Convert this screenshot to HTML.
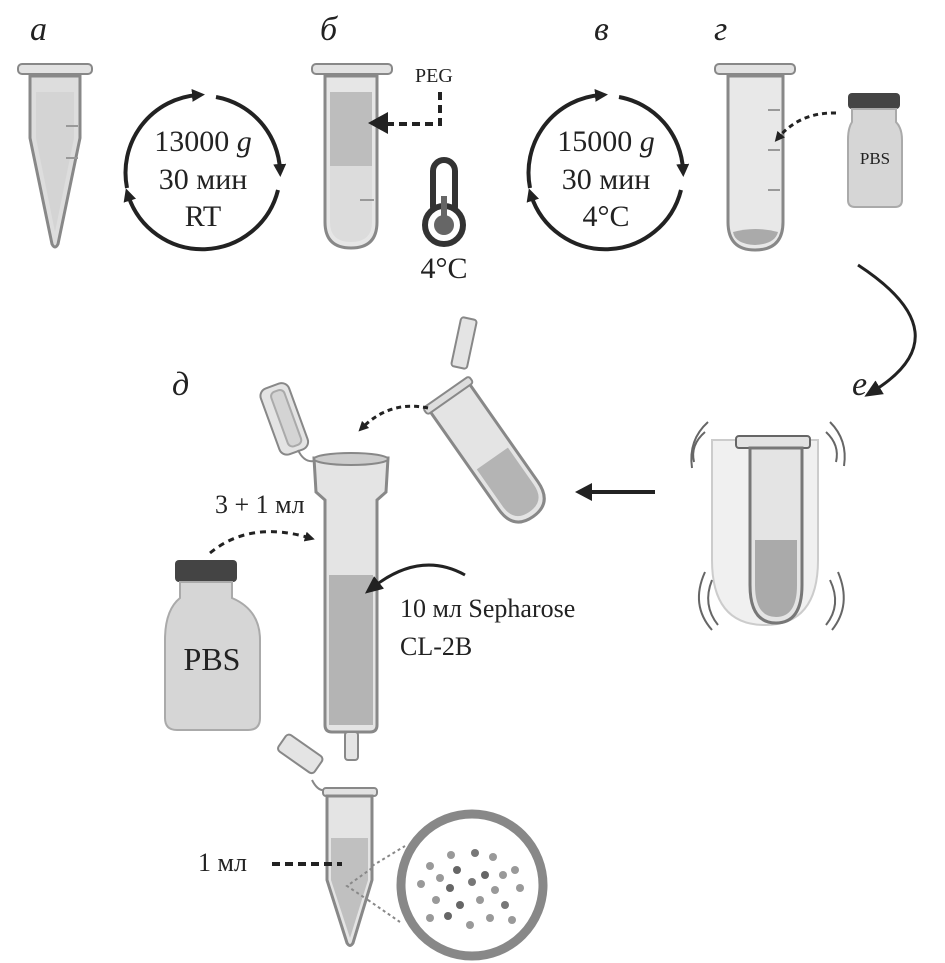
<!DOCTYPE html>
<html><head><meta charset="utf-8"><style>
html,body{margin:0;padding:0;background:#fff}
svg{display:block}
text{font-family:"Liberation Serif",serif;fill:#222}
</style></head><body>
<svg width="945" height="963" viewBox="0 0 945 963" xmlns="http://www.w3.org/2000/svg">
<defs>
<marker id="ah" markerWidth="13" markerHeight="13" refX="6" refY="6.5" orient="auto" markerUnits="userSpaceOnUse" viewBox="0 0 13 13"><path d="M0,0 L13,6.5 L0,13 z" fill="#222"/></marker>
<marker id="ahs" markerWidth="10" markerHeight="10" refX="5" refY="5" orient="auto" markerUnits="userSpaceOnUse" viewBox="0 0 10 10"><path d="M0,0 L10,5 L0,10 z" fill="#222"/></marker>
<marker id="ahb" markerWidth="18" markerHeight="18" refX="9" refY="9" orient="auto" markerUnits="userSpaceOnUse" viewBox="0 0 18 18"><path d="M0,1 L18,9 L0,17 z" fill="#222"/></marker>
</defs>

<g font-style="italic" font-size="34">
<text x="30" y="40">а</text><text x="320" y="40">б</text><text x="594" y="40">в</text><text x="714" y="40">г</text>
<text x="172" y="395">д</text><text x="852" y="395">е</text>
</g>

<!-- tube a -->
<rect x="18" y="64" width="74" height="10" rx="4" fill="#e2e2e2" stroke="#888" stroke-width="2"/>
<path d="M30 76 L80 76 L80 138 L58 244 Q55 250 52 244 L30 138 Z" fill="#ddd" stroke="#888" stroke-width="3"/>
<path d="M36 92 L74 92 L74 138 L55 232 L36 138 Z" fill="#d4d4d4"/>
<line x1="66" y1="126" x2="78" y2="126" stroke="#999" stroke-width="2"/><line x1="66" y1="158" x2="78" y2="158" stroke="#999" stroke-width="2"/>

<g fill="none" stroke="#222" stroke-width="4">
<path d="M127 188 A78 78 0 0 1 198 95" marker-end="url(#ah)"/>
<path d="M216 97 A78 78 0 0 1 280 170" marker-end="url(#ah)"/>
<path d="M278 190 A78 78 0 0 1 128 195" marker-end="url(#ah)"/>
</g>
<g font-size="30" text-anchor="middle"><text x="203" y="151">13000 <tspan font-style="italic">g</tspan></text><text x="203" y="189">30 мин</text><text x="203" y="226">RT</text></g>

<!-- tube b -->
<rect x="312" y="64" width="80" height="10" rx="4" fill="#e2e2e2" stroke="#888" stroke-width="2"/>
<path d="M325 76 L377 76 L377 222 Q377 248 351 248 Q325 248 325 222 Z" fill="#e6e6e6" stroke="#888" stroke-width="3"/>
<rect x="330" y="92" width="42" height="74" fill="#bdbdbd"/>
<path d="M330 166 L372 166 L372 222 Q372 242 351 242 Q330 242 330 222 Z" fill="#dcdcdc"/>
<line x1="360" y1="200" x2="374" y2="200" stroke="#999" stroke-width="2"/>
<text x="415" y="82" font-size="20">PEG</text>
<path d="M440 92 L440 124 L388 124" fill="none" stroke="#222" stroke-width="4" stroke-dasharray="8 5"/>
<path d="M368 123 L388 112 L388 134 Z" fill="#222"/>
<rect x="433" y="160" width="22" height="58" rx="11" fill="#fff" stroke="#333" stroke-width="6"/>
<circle cx="444" cy="225" r="19" fill="#fff" stroke="#333" stroke-width="6"/>
<circle cx="444" cy="225" r="10" fill="#666"/>
<rect x="441" y="196" width="6" height="26" fill="#666"/>
<text x="444" y="278" font-size="30" text-anchor="middle">4°C</text>

<g fill="none" stroke="#222" stroke-width="4">
<path d="M530 188 A78 78 0 0 1 601 95" marker-end="url(#ah)"/>
<path d="M619 97 A78 78 0 0 1 683 170" marker-end="url(#ah)"/>
<path d="M681 190 A78 78 0 0 1 531 195" marker-end="url(#ah)"/>
</g>
<g font-size="30" text-anchor="middle"><text x="606" y="151">15000 <tspan font-style="italic">g</tspan></text><text x="606" y="189">30 мин</text><text x="606" y="226">4°C</text></g>

<!-- tube g -->
<rect x="715" y="64" width="80" height="10" rx="4" fill="#e2e2e2" stroke="#888" stroke-width="2"/>
<path d="M728 76 L783 76 L783 222 Q783 250 755 250 Q728 250 728 222 Z" fill="#e8e8e8" stroke="#888" stroke-width="3"/>
<path d="M733 232 Q755 226 778 232 Q775 244 755 245 Q735 244 733 232 Z" fill="#aaa"/>
<g stroke="#999" stroke-width="2"><line x1="768" y1="110" x2="780" y2="110"/><line x1="768" y1="150" x2="780" y2="150"/><line x1="768" y1="190" x2="780" y2="190"/></g>
<rect x="848" y="93" width="52" height="16" rx="4" fill="#444"/>
<path d="M852 109 L896 109 L896 122 Q902 128 902 140 L902 200 Q902 207 895 207 L855 207 Q848 207 848 200 L848 140 Q848 128 852 122 Z" fill="#d6d6d6" stroke="#aaa" stroke-width="2"/>
<text x="875" y="164" font-size="17" text-anchor="middle">PBS</text>
<path d="M836 113 Q800 112 778 138" fill="none" stroke="#222" stroke-width="3" stroke-dasharray="5 4" marker-end="url(#ahs)"/>

<path d="M858 265 Q965 335 872 392" fill="none" stroke="#222" stroke-width="3" marker-end="url(#ahb)"/>

<!-- tube e -->
<path d="M712 440 L818 440 L818 560 Q818 625 765 625 Q712 625 712 560 Z" fill="#f0f0f0" stroke="#ccc" stroke-width="2"/>
<rect x="736" y="436" width="74" height="12" rx="3" fill="#e2e2e2" stroke="#666" stroke-width="2"/>
<path d="M750 448 L802 448 L802 585 Q802 623 776 623 Q750 623 750 585 Z" fill="#e4e4e4" stroke="#777" stroke-width="3"/>
<path d="M755 540 L797 540 L797 585 Q797 617 776 617 Q755 617 755 585 Z" fill="#aaa"/>
<g fill="none" stroke="#666" stroke-width="2">
<path d="M705 432 Q690 445 694 462"/><path d="M708 422 Q688 440 692 468"/>
<path d="M830 422 Q848 440 844 466"/><path d="M826 432 Q840 445 836 462"/>
<path d="M712 580 Q702 605 718 625"/><path d="M705 572 Q690 605 712 630"/>
<path d="M830 580 Q842 605 826 625"/><path d="M838 572 Q852 605 832 630"/>
</g>
<line x1="655" y1="492" x2="590" y2="492" stroke="#222" stroke-width="4"/>
<path d="M575 492 L592 483 L592 501 Z" fill="#222"/>

<g transform="translate(478,438) rotate(-35)">
<path d="M-24 -50 L24 -50 L24 70 Q24 96 0 96 Q-24 96 -24 70 Z" fill="#e4e4e4" stroke="#888" stroke-width="3"/>
<path d="M-19 25 L19 25 L19 70 Q19 90 0 90 Q-19 90 -19 70 Z" fill="#b4b4b4"/>
<rect x="-28" y="-56" width="56" height="8" rx="3" fill="#ddd" stroke="#888" stroke-width="2"/>
</g>
<rect x="456" y="318" width="16" height="50" rx="3" transform="rotate(12 464 343)" fill="#e4e4e4" stroke="#888" stroke-width="2"/>
<path d="M428 408 Q390 400 362 428" fill="none" stroke="#222" stroke-width="3" stroke-dasharray="5 4" marker-end="url(#ahs)"/>

<g transform="rotate(-20 290 420)"><rect x="270" y="382" width="30" height="70" rx="8" fill="#e4e4e4" stroke="#888" stroke-width="2"/><rect x="280" y="388" width="14" height="58" rx="5" fill="#d4d4d4" stroke="#aaa" stroke-width="2"/></g>
<path d="M298 450 Q305 465 318 460" fill="none" stroke="#888" stroke-width="2"/>
<path d="M314 458 L388 458 L386 492 L377 500 L377 725 Q377 732 370 732 L332 732 Q325 732 325 725 L325 500 L316 492 Z" fill="#e4e4e4" stroke="#888" stroke-width="3"/>
<ellipse cx="351" cy="459" rx="37" ry="6" fill="#ccc" stroke="#888" stroke-width="2"/>
<rect x="329" y="575" width="44" height="150" fill="#b4b4b4"/>
<rect x="345" y="732" width="13" height="28" rx="3" fill="#e4e4e4" stroke="#888" stroke-width="2"/>
<path d="M465 575 Q420 550 372 588" fill="none" stroke="#222" stroke-width="3" marker-end="url(#ahb)"/>
<text x="400" y="617" font-size="26">10 мл Sepharose</text>
<text x="400" y="655" font-size="26">CL-2B</text>

<text x="215" y="513" font-size="26">3 + 1 мл</text>
<path d="M210 553 Q250 520 310 538" fill="none" stroke="#222" stroke-width="3" stroke-dasharray="6 5" marker-end="url(#ahs)"/>
<rect x="175" y="560" width="62" height="22" rx="4" fill="#444"/>
<path d="M180 582 L232 582 L232 598 Q260 610 260 640 L260 718 Q260 730 248 730 L177 730 Q165 730 165 718 L165 640 Q165 610 180 598 Z" fill="#d6d6d6" stroke="#aaa" stroke-width="2"/>
<text x="212" y="670" font-size="32" text-anchor="middle">PBS</text>

<g transform="rotate(35 290 765)"><rect x="270" y="740" width="44" height="20" rx="4" fill="#e4e4e4" stroke="#888" stroke-width="2"/></g>
<path d="M312 780 Q318 792 326 790" fill="none" stroke="#888" stroke-width="2"/>
<rect x="323" y="788" width="54" height="8" rx="3" fill="#e2e2e2" stroke="#888" stroke-width="2"/>
<path d="M327 796 L372 796 L372 880 L353 943 Q350 948 347 943 L327 880 Z" fill="#e4e4e4" stroke="#888" stroke-width="3"/>
<path d="M331 838 L368 838 L368 880 L350 938 L331 880 Z" fill="#c0c0c0"/>
<text x="198" y="871" font-size="26">1 мл</text>
<line x1="272" y1="864" x2="342" y2="864" stroke="#222" stroke-width="4" stroke-dasharray="8 5"/>
<g stroke="#888" stroke-width="2" stroke-dasharray="3 3" fill="none"><path d="M372 868 L347 886 L368 900"/><line x1="372" y1="866" x2="405" y2="846"/><line x1="368" y1="900" x2="400" y2="922"/></g>
<circle cx="472" cy="885" r="71" fill="#fff" stroke="#888" stroke-width="9"/>
<g fill="#999">
<circle cx="451" cy="855" r="4"/><circle cx="475" cy="853" r="4" fill="#777"/><circle cx="493" cy="857" r="4"/>
<circle cx="430" cy="866" r="4"/><circle cx="440" cy="878" r="4"/><circle cx="457" cy="870" r="4" fill="#666"/><circle cx="485" cy="875" r="4" fill="#666"/><circle cx="503" cy="875" r="4"/><circle cx="515" cy="870" r="4"/>
<circle cx="421" cy="884" r="4"/><circle cx="450" cy="888" r="4" fill="#666"/><circle cx="472" cy="882" r="4" fill="#777"/><circle cx="495" cy="890" r="4"/><circle cx="520" cy="888" r="4"/>
<circle cx="436" cy="900" r="4"/><circle cx="460" cy="905" r="4" fill="#666"/><circle cx="480" cy="900" r="4"/><circle cx="505" cy="905" r="4" fill="#777"/>
<circle cx="430" cy="918" r="4"/><circle cx="448" cy="916" r="4" fill="#666"/><circle cx="470" cy="925" r="4"/><circle cx="490" cy="918" r="4"/><circle cx="512" cy="920" r="4"/>
</g>
</svg>
</body></html>
